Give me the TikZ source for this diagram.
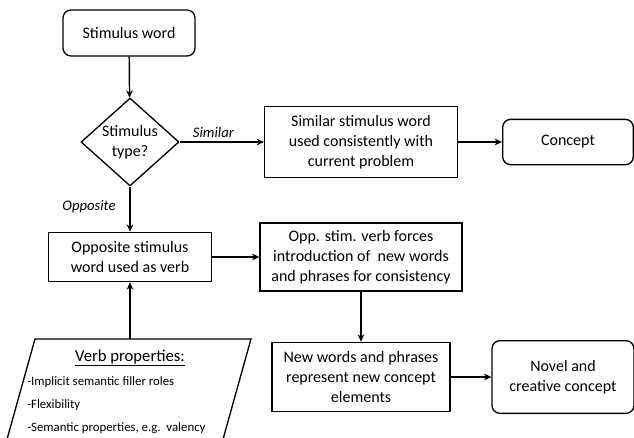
\documentclass[tikz,border=0pt]{standalone}
\usepackage{fontspec}
\setmainfont{Carlito}
\usetikzlibrary{arrows.meta,shapes.geometric}
\begin{document}
\begin{tikzpicture}[x=0.75pt,y=-0.75pt,
  every node/.style={font=\fontsize{12}{15}\selectfont, align=center, inner sep=0pt},
  rbox/.style={draw, line width=1pt, rounded corners=6pt},
  sbox/.style={draw, line width=1pt},
  lbl/.style={font=\fontsize{11}{13}\selectfont\itshape},
  arr/.style={line width=1.1pt, -{Stealth[length=5.5pt,width=5pt]}},
  item/.style={font=\fontsize{9.6}{11}\selectfont, anchor=west}]
\useasboundingbox (0,0) rectangle (634,437);
\clip (0,0) rectangle (634,437);
\node[rbox, minimum width=99pt, minimum height=34.5pt] (sw) at (129,33) {Stimulus word};
\node[draw, line width=1pt, shape=diamond, minimum width=73.5pt, minimum height=66pt] (dia) at (130,142) {};
\node (diat) at (130,142) {Stimulus\\type?};
\node[sbox, minimum width=144.5pt, minimum height=53pt] (sim) at (361,142) {Similar stimulus word\\used consistently with\\current problem};
\node[rbox, minimum width=98pt, minimum height=34pt] (con) at (568,142) {Concept};
\node[sbox, minimum width=122pt, minimum height=37pt] (opp) at (130,257) {Opposite stimulus\\word used as verb};
\node[sbox, minimum width=151.5pt, minimum height=51pt] (ost) at (361,257) {Opp. stim. verb forces\\introduction of\ \ new words\\and phrases for consistency};
\node[sbox, minimum width=133.5pt, minimum height=52pt] (nw) at (361,377) {New words and phrases\\represent new concept\\elements};
\node[rbox, minimum width=106.5pt, minimum height=54.5pt] (nov) at (563,377) {Novel and\\creative concept};
% parallelogram
\coordinate (p1) at (35,339);
\coordinate (p2) at (251,339);
\coordinate (p3) at (220,450);
\coordinate (p4) at (4,450);
\draw[line width=1pt] (p4) -- (p1) -- (p2) -- (p3);
\coordinate (vptop) at (130,339);
\node[font=\fontsize{12.5}{15}\selectfont] (vph) at (130,358) {\underline{Verb properties:}};
\node[item] (i1) at (27,382) {-Implicit semantic filler roles};
\node[item] (i2) at (27,405) {-Flexibility};
\node[item] (i3) at (27,428) {-Semantic properties, e.g.\ \ valency};
% arrows
\draw[arr] (sw) -- (dia);
\draw[arr] (dia) -- node[lbl, above=3pt, pos=0.4] (lsim) {Similar} (sim);
\draw[arr] (sim) -- (con);
\draw[arr] (dia) -- (opp);
\node[lbl] (lopp) at (89,207) {Opposite};
\draw[arr] (opp) -- (ost);
\draw[arr] (ost) -- (nw);
\draw[arr] (nw) -- (nov);
\draw[arr] (vptop) -- (opp);
\end{tikzpicture}
\end{document}
